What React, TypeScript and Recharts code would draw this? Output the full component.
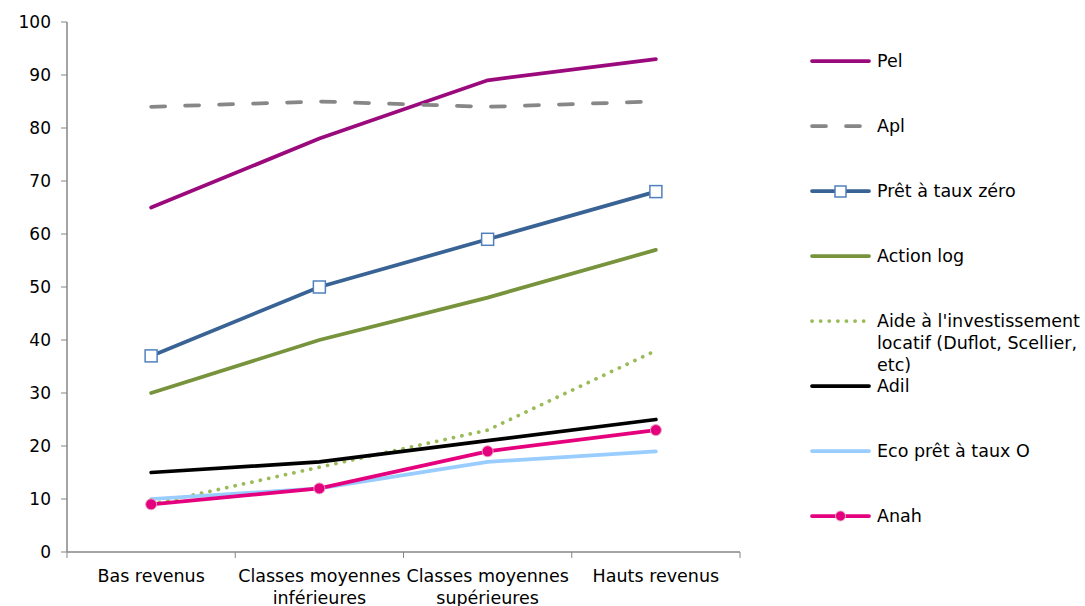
import { LineChart, Line, XAxis, YAxis } from 'recharts'

const categories = ['Bas revenus', 'Classes moyennes\ninférieures', 'Classes moyennes\nsupérieures', 'Hauts revenus']
const pel = [65, 78, 89, 93]
const apl = [84, 85, 84, 85]
const ptz = [37, 50, 59, 68]
const actionLog = [30, 40, 48, 57]
const aideInvest = [9, 16, 23, 38]
const adil = [15, 17, 21, 25]
const ecoPtz = [10, 12, 17, 19]
const anah = [9, 12, 19, 23]
const yTicks = [0, 10, 20, 30, 40, 50, 60, 70, 80, 90, 100]

const W = 1085
const H = 606
const PLOT_LEFT = 67
const PLOT_RIGHT = 740
const PLOT_TOP = 22
const PLOT_BOTTOM = 552
const STEP = (PLOT_RIGHT - PLOT_LEFT) / categories.length
const FONT = '"DejaVu Sans", Verdana, sans-serif'

type Marker = 'none' | 'square' | 'circle'
interface Series {
  key: string
  name: string
  color: string
  width: number
  dash?: string
  marker: Marker
}

const series: Series[] = [
  { key: 'pel', name: 'Pel', color: '#9B0A7D', width: 3.75, marker: 'none' },
  { key: 'apl', name: 'Apl', color: '#878787', width: 3.75, dash: '14 20', marker: 'none' },
  { key: 'ptz', name: 'Prêt à taux zéro', color: '#3A6395', width: 3.75, marker: 'square' },
  { key: 'actionLog', name: 'Action log', color: '#77933C', width: 3.75, marker: 'none' },
  { key: 'aideInvest', name: "Aide à l'investissement locatif (Duflot, Scellier, etc)", color: '#9BBB59', width: 3.75, dash: '0.1 8.5', marker: 'none' },
  { key: 'adil', name: 'Adil', color: '#000000', width: 3.75, marker: 'none' },
  { key: 'ecoPtz', name: 'Eco prêt à taux O', color: '#99CCFF', width: 3.75, marker: 'none' },
  { key: 'anah', name: 'Anah', color: '#E5007E', width: 3.75, marker: 'circle' },
]

const data = categories.map((c, i) => ({
  cat: c,
  pel: pel[i],
  apl: apl[i],
  ptz: ptz[i],
  actionLog: actionLog[i],
  aideInvest: aideInvest[i],
  adil: adil[i],
  ecoPtz: ecoPtz[i],
  anah: anah[i],
}))

const SquareDot = (props: any) => {
  const { cx, cy } = props
  if (cx == null || cy == null) return null
  return <rect x={cx - 6} y={cy - 6} width={12} height={12} fill="#fff" stroke="#4F81BD" strokeWidth={1.5} />
}

const CircleDot = (props: any) => {
  const { cx, cy } = props
  if (cx == null || cy == null) return null
  return <circle cx={cx} cy={cy} r={5.5} fill="#E5007E" stroke="#E8A3BF" strokeWidth={1} />
}

const XTick = (props: any) => {
  const { x, y, payload, index } = props
  const lines = String(payload.value).split('\n')
  return (
    <g>
      {index === 0 && <line x1={x - STEP / 2} x2={x - STEP / 2} y1={y} y2={y + 6} stroke="#868686" />}
      <line x1={x + STEP / 2} x2={x + STEP / 2} y1={y} y2={y + 6} stroke="#868686" />
      <text x={x} y={y + 30} textAnchor="middle" fontSize={17.5} fill="#000" fontFamily={FONT}>
        {lines.map((l, i) => (
          <tspan key={i} x={x} dy={i === 0 ? 0 : 22}>{l}</tspan>
        ))}
      </text>
    </g>
  )
}

function LegendSample({ s }: { s: Series }) {
  return (
    <svg width={68} height={22} style={{ flex: 'none' }}>
      <line x1={3} x2={60} y1={11} y2={11} stroke={s.color} strokeWidth={s.width}
        strokeDasharray={s.dash} strokeLinecap="round" />
      {s.marker === 'square' && <rect x={26} y={6} width={11} height={11} fill="#fff" stroke="#4F81BD" strokeWidth={1.5} />}
      {s.marker === 'circle' && <circle cx={31.5} cy={11} r={5} fill="#E5007E" stroke="#E8A3BF" strokeWidth={1} />}
    </svg>
  )
}

export default function App() {
  return (
    <div style={{ position: 'absolute', left: 0, top: 0, width: W, height: H, background: '#fff', fontFamily: FONT }}>
      <LineChart width={W} height={H} data={data}
        margin={{ top: PLOT_TOP, right: W - PLOT_RIGHT, bottom: 0, left: 0 }}>
        <XAxis dataKey="cat" interval={0} tickLine={false} tickSize={0} tickMargin={0}
          axisLine={{ stroke: '#868686', strokeWidth: 1.5 }} tick={<XTick />}
          padding={{ left: STEP / 2, right: STEP / 2 }} height={H - PLOT_BOTTOM} />
        <YAxis width={PLOT_LEFT} domain={[0, 100]} ticks={yTicks} interval={0}
          axisLine={{ stroke: '#868686', strokeWidth: 1.5 }} tickLine={{ stroke: '#868686' }}
          tickSize={6} tickMargin={10}
          tick={{ fontSize: 17, fill: '#000', fontFamily: FONT }} />
        {series.map((s) => (
          <Line key={s.key} type="linear" dataKey={s.key} name={s.name} stroke={s.color}
            strokeWidth={s.width} strokeDasharray={s.dash}
            strokeLinecap="round"
            dot={s.marker === 'square' ? <SquareDot /> : s.marker === 'circle' ? <CircleDot /> : false}
            activeDot={false} isAnimationActive={false} />
        ))}
      </LineChart>
      <div style={{ position: 'absolute', left: 809, top: 50, width: 276 }}>
        {series.map((s) => (
          <div key={s.key} style={{ display: 'flex', alignItems: 'flex-start', height: 65 }}>
            <LegendSample s={s} />
            <div style={{ fontSize: 17.5, lineHeight: '22px', width: 208, color: '#000' }}>{s.name}</div>
          </div>
        ))}
      </div>
    </div>
  )
}
